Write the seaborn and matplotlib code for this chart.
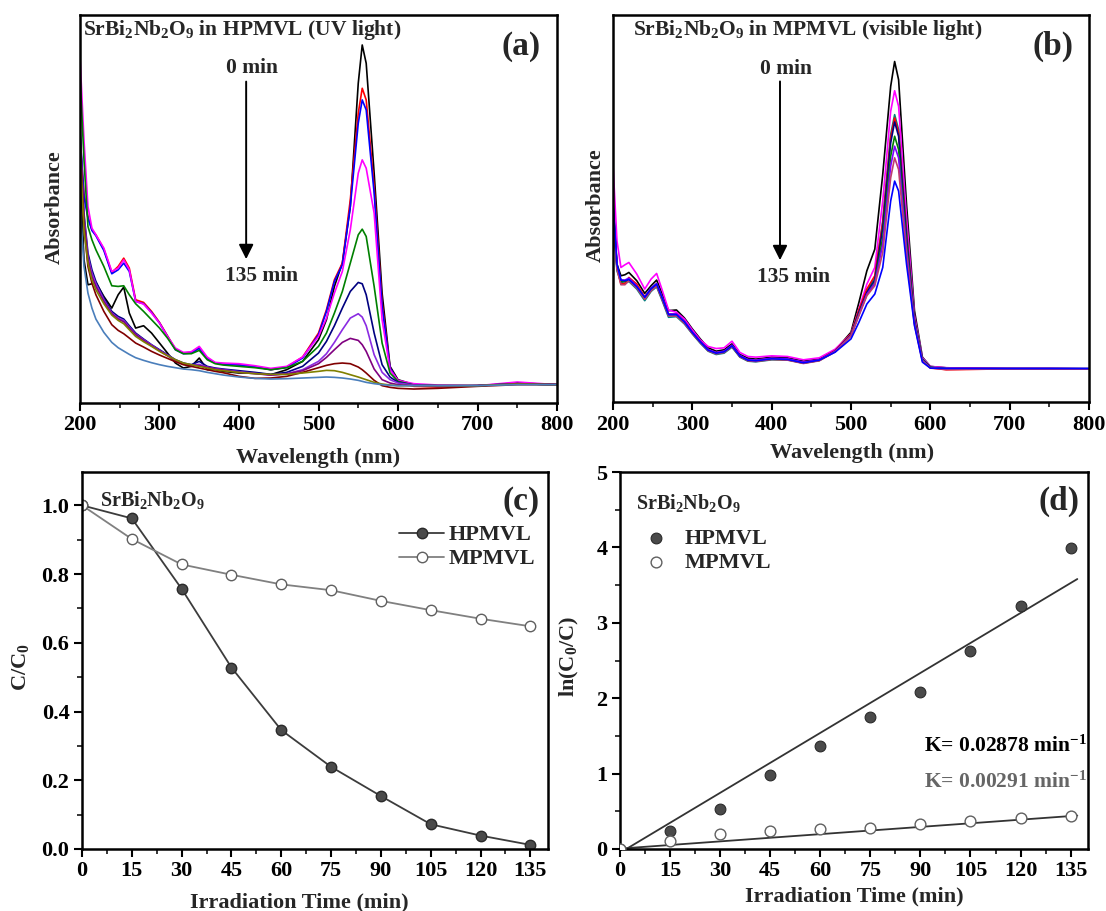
import numpy as np
import pandas as pd
import matplotlib
matplotlib.use("Agg")
import matplotlib.pyplot as plt
import seaborn as sns
from matplotlib.ticker import MultipleLocator

# ---------------- data ----------------
wavelength = [200, 205, 210, 215, 220, 230, 240, 248, 255, 262, 270, 280, 290, 300, 310,
              320, 330, 340, 350, 360, 370, 380, 400, 420, 440, 460, 480, 500, 510, 520,
              530, 540, 550, 555, 560, 570, 580, 590, 600, 620, 650, 700, 750, 800]

# panel (a) : SrBi2Nb2O9 in HPMVL (UV light), absorbance (a.u.)
uv_black = [0.710, 0.430, 0.355, 0.358, 0.362, 0.320, 0.285, 0.325, 0.348, 0.270, 0.225, 0.232, 0.210, 0.180, 0.150,
            0.120, 0.105, 0.110, 0.135, 0.100, 0.100, 0.095, 0.090, 0.090, 0.085, 0.100, 0.125, 0.190, 0.250, 0.350,
            0.420, 0.590, 0.960, 1.075, 1.020, 0.690, 0.330, 0.110, 0.070, 0.055, 0.052, 0.052, 0.060, 0.055]
uv_red = [0.790, 0.630, 0.560, 0.520, 0.505, 0.462, 0.392, 0.410, 0.435, 0.405, 0.310, 0.302, 0.275, 0.242, 0.202,
          0.162, 0.150, 0.152, 0.167, 0.135, 0.120, 0.118, 0.115, 0.110, 0.100, 0.108, 0.138, 0.210, 0.280, 0.370,
          0.420, 0.610, 0.870, 0.945, 0.910, 0.650, 0.300, 0.105, 0.065, 0.050, 0.048, 0.052, 0.058, 0.055]
uv_blue = [0.810, 0.620, 0.555, 0.518, 0.502, 0.458, 0.388, 0.400, 0.420, 0.395, 0.305, 0.298, 0.272, 0.240, 0.200,
           0.160, 0.148, 0.150, 0.164, 0.133, 0.120, 0.117, 0.114, 0.109, 0.100, 0.107, 0.135, 0.205, 0.275, 0.365,
           0.415, 0.590, 0.840, 0.910, 0.880, 0.630, 0.290, 0.105, 0.065, 0.053, 0.050, 0.052, 0.058, 0.055]
uv_magenta = [1.040, 0.790, 0.590, 0.525, 0.505, 0.465, 0.395, 0.405, 0.430, 0.400, 0.305, 0.297, 0.270, 0.240, 0.200,
              0.165, 0.152, 0.154, 0.170, 0.138, 0.122, 0.120, 0.118, 0.112, 0.104, 0.110, 0.138, 0.200, 0.255, 0.330,
              0.395, 0.520, 0.690, 0.730, 0.705, 0.570, 0.250, 0.100, 0.068, 0.058, 0.054, 0.052, 0.063, 0.055]
uv_green = [0.990, 0.730, 0.530, 0.490, 0.460, 0.410, 0.352, 0.350, 0.352, 0.325, 0.298, 0.275, 0.250, 0.225, 0.195,
            0.160, 0.148, 0.148, 0.158, 0.130, 0.118, 0.114, 0.110, 0.106, 0.100, 0.106, 0.125, 0.170, 0.210, 0.270,
            0.335, 0.420, 0.505, 0.522, 0.500, 0.350, 0.180, 0.090, 0.065, 0.054, 0.052, 0.052, 0.058, 0.055]
uv_navy = [0.830, 0.570, 0.450, 0.400, 0.365, 0.315, 0.275, 0.260, 0.252, 0.232, 0.210, 0.192, 0.175, 0.160, 0.145,
           0.130, 0.120, 0.115, 0.125, 0.110, 0.105, 0.102, 0.097, 0.092, 0.086, 0.092, 0.110, 0.150, 0.185, 0.232,
           0.285, 0.335, 0.362, 0.358, 0.325, 0.210, 0.115, 0.078, 0.062, 0.054, 0.052, 0.052, 0.058, 0.055]
uv_violet = [0.810, 0.560, 0.440, 0.390, 0.358, 0.310, 0.270, 0.255, 0.248, 0.228, 0.207, 0.190, 0.174, 0.158, 0.144,
             0.128, 0.118, 0.114, 0.116, 0.108, 0.103, 0.100, 0.094, 0.089, 0.084, 0.088, 0.100, 0.125, 0.148, 0.182,
             0.220, 0.255, 0.268, 0.258, 0.232, 0.145, 0.092, 0.070, 0.060, 0.054, 0.052, 0.052, 0.058, 0.055]
uv_purple = [0.800, 0.550, 0.430, 0.380, 0.350, 0.305, 0.268, 0.252, 0.244, 0.225, 0.205, 0.188, 0.172, 0.157, 0.142,
             0.127, 0.117, 0.113, 0.112, 0.107, 0.102, 0.099, 0.092, 0.088, 0.084, 0.087, 0.097, 0.118, 0.137, 0.160,
             0.182, 0.194, 0.188, 0.175, 0.155, 0.102, 0.070, 0.060, 0.055, 0.052, 0.050, 0.052, 0.058, 0.055]
uv_wine = [0.790, 0.530, 0.410, 0.360, 0.325, 0.275, 0.235, 0.218, 0.208, 0.195, 0.180, 0.168, 0.155, 0.144, 0.134,
           0.124, 0.115, 0.110, 0.105, 0.100, 0.095, 0.091, 0.080, 0.074, 0.075, 0.080, 0.092, 0.106, 0.113, 0.118,
           0.120, 0.118, 0.108, 0.100, 0.090, 0.068, 0.052, 0.047, 0.044, 0.042, 0.044, 0.050, 0.055, 0.055]
uv_olive = [0.760, 0.520, 0.420, 0.370, 0.340, 0.298, 0.264, 0.248, 0.238, 0.220, 0.200, 0.184, 0.170, 0.155, 0.142,
            0.130, 0.120, 0.115, 0.110, 0.105, 0.100, 0.097, 0.092, 0.088, 0.086, 0.086, 0.090, 0.095, 0.098, 0.097,
            0.092, 0.085, 0.078, 0.074, 0.070, 0.062, 0.057, 0.054, 0.052, 0.052, 0.052, 0.052, 0.057, 0.055]
uv_steel = [0.600, 0.410, 0.330, 0.285, 0.252, 0.212, 0.182, 0.166, 0.156, 0.146, 0.136, 0.128, 0.121, 0.115, 0.110,
            0.106, 0.102, 0.100, 0.097, 0.092, 0.088, 0.084, 0.078, 0.074, 0.072, 0.073, 0.075, 0.077, 0.078, 0.077,
            0.075, 0.072, 0.068, 0.065, 0.062, 0.058, 0.055, 0.053, 0.052, 0.052, 0.052, 0.052, 0.055, 0.055]

# panel (b) : SrBi2Nb2O9 in MPMVL (visible light), absorbance (a.u.)
vis_black = [0.605, 0.415, 0.380, 0.383, 0.390, 0.365, 0.327, 0.350, 0.367, 0.325, 0.275, 0.277, 0.253, 0.220, 0.190,
             0.163, 0.153, 0.157, 0.175, 0.143, 0.132, 0.129, 0.135, 0.133, 0.123, 0.129, 0.155, 0.210, 0.300, 0.395,
             0.460, 0.685, 0.950, 1.025, 0.970, 0.595, 0.275, 0.135, 0.107, 0.103, 0.102, 0.101, 0.101, 0.100]
vis_magenta = [0.715, 0.485, 0.405, 0.413, 0.420, 0.385, 0.340, 0.370, 0.387, 0.337, 0.277, 0.270, 0.250, 0.217, 0.187,
               0.167, 0.161, 0.163, 0.183, 0.149, 0.137, 0.135, 0.139, 0.137, 0.127, 0.133, 0.159, 0.205, 0.280, 0.355,
               0.405, 0.605, 0.875, 0.937, 0.890, 0.555, 0.260, 0.133, 0.107, 0.103, 0.102, 0.101, 0.101, 0.100]
vis_teal = [0.555, 0.395, 0.360, 0.357, 0.363, 0.340, 0.305, 0.333, 0.347, 0.305, 0.255, 0.257, 0.235, 0.205, 0.177,
            0.153, 0.143, 0.147, 0.165, 0.135, 0.123, 0.121, 0.127, 0.127, 0.117, 0.125, 0.153, 0.203, 0.275, 0.335,
            0.375, 0.545, 0.805, 0.865, 0.820, 0.515, 0.250, 0.130, 0.105, 0.101, 0.100, 0.100, 0.100, 0.100]
vis_red = [0.585, 0.405, 0.355, 0.357, 0.375, 0.355, 0.317, 0.340, 0.355, 0.313, 0.265, 0.265, 0.243, 0.210, 0.183,
           0.157, 0.148, 0.152, 0.170, 0.139, 0.127, 0.125, 0.131, 0.129, 0.119, 0.127, 0.155, 0.205, 0.277, 0.340,
           0.380, 0.540, 0.795, 0.855, 0.810, 0.505, 0.245, 0.127, 0.103, 0.097, 0.098, 0.100, 0.099, 0.100]
vis_navy = [0.595, 0.410, 0.365, 0.365, 0.370, 0.347, 0.313, 0.339, 0.353, 0.312, 0.263, 0.263, 0.241, 0.209, 0.181,
            0.156, 0.147, 0.151, 0.169, 0.138, 0.126, 0.124, 0.130, 0.128, 0.118, 0.126, 0.153, 0.202, 0.270, 0.330,
            0.367, 0.525, 0.780, 0.843, 0.800, 0.495, 0.243, 0.128, 0.104, 0.100, 0.100, 0.100, 0.100, 0.100]
vis_green = [0.575, 0.405, 0.363, 0.363, 0.369, 0.345, 0.311, 0.337, 0.351, 0.310, 0.261, 0.261, 0.239, 0.207, 0.180,
             0.155, 0.146, 0.150, 0.168, 0.137, 0.125, 0.123, 0.129, 0.127, 0.117, 0.125, 0.152, 0.200, 0.265, 0.323,
             0.360, 0.495, 0.740, 0.800, 0.760, 0.475, 0.240, 0.127, 0.104, 0.100, 0.100, 0.100, 0.100, 0.100]
vis_violet = [0.590, 0.407, 0.367, 0.367, 0.373, 0.349, 0.315, 0.343, 0.357, 0.315, 0.265, 0.265, 0.243, 0.211, 0.183,
              0.158, 0.149, 0.153, 0.171, 0.140, 0.128, 0.126, 0.132, 0.130, 0.120, 0.127, 0.153, 0.200, 0.263, 0.325,
              0.357, 0.475, 0.710, 0.770, 0.735, 0.460, 0.237, 0.125, 0.103, 0.100, 0.100, 0.100, 0.100, 0.100]
vis_rose = [0.565, 0.400, 0.353, 0.353, 0.365, 0.343, 0.309, 0.335, 0.349, 0.308, 0.259, 0.259, 0.237, 0.206, 0.179,
            0.154, 0.145, 0.149, 0.167, 0.136, 0.124, 0.122, 0.128, 0.126, 0.116, 0.124, 0.151, 0.199, 0.260, 0.320,
            0.350, 0.450, 0.675, 0.735, 0.700, 0.440, 0.233, 0.123, 0.102, 0.098, 0.099, 0.100, 0.100, 0.100]
vis_blue = [0.605, 0.415, 0.367, 0.365, 0.369, 0.347, 0.315, 0.341, 0.355, 0.313, 0.263, 0.263, 0.241, 0.209, 0.181,
            0.156, 0.147, 0.151, 0.169, 0.138, 0.126, 0.124, 0.130, 0.128, 0.118, 0.126, 0.150, 0.190, 0.240, 0.295,
            0.325, 0.405, 0.605, 0.665, 0.635, 0.415, 0.230, 0.120, 0.102, 0.101, 0.101, 0.101, 0.101, 0.101]

# panels (c) and (d)
time_min = [0, 15, 30, 45, 60, 75, 90, 105, 120, 135]
c_hpmvl = [1.000, 0.962, 0.757, 0.528, 0.346, 0.239, 0.154, 0.072, 0.039, 0.012]
c_mpmvl = [1.000, 0.902, 0.828, 0.798, 0.770, 0.753, 0.722, 0.695, 0.670, 0.648]
ln_hpmvl = [0.0, 0.238, 0.533, 0.988, 1.367, 1.755, 2.085, 2.62, 3.22, 3.99]
ln_mpmvl = [0.0, 0.106, 0.194, 0.234, 0.265, 0.282, 0.331, 0.370, 0.410, 0.440]
fit_hp = (0.0265, -0.05)    # slope, intercept of drawn fit line
fit_mp = (0.0032, 0.005)
k_labels = ["K= 0.02878 min$^{-1}$", "K= 0.00291 min$^{-1}$"]

uv_curves = [uv_black, uv_red, uv_blue, uv_magenta, uv_green, uv_navy, uv_violet,
             uv_purple, uv_wine, uv_olive, uv_steel]
uv_colors = ["#000000", "#ff0000", "#0000ff", "#ff00ff", "#008000", "#000080", "#8a2be2",
             "#800080", "#800000", "#808000", "#4a7ebb"]
vis_curves = [vis_black, vis_magenta, vis_teal, vis_red, vis_navy, vis_green, vis_violet,
              vis_rose, vis_blue]
vis_colors = ["#000000", "#ff00ff", "#008080", "#ff0000", "#000080", "#008000", "#8000ff",
              "#c03c6e", "#0000ff"]

# ---------------- style ----------------
sns.set_theme(style="ticks")
plt.rcParams["font.family"] = ["Liberation Serif", "DejaVu Serif"]
plt.rcParams["font.weight"] = "bold"
plt.rcParams["axes.labelweight"] = "bold"
plt.rcParams["mathtext.fontset"] = "custom"
plt.rcParams["mathtext.rm"] = "Liberation Serif:bold"
plt.rcParams["mathtext.it"] = "Liberation Serif:bold"
plt.rcParams["mathtext.bf"] = "Liberation Serif:bold"

FS_TICK = 16
FS_LAB = 16

fig = plt.figure(figsize=(11.06, 9.11), dpi=100)
W, H = 1106, 911


def add_ax(l, t, r, b):
    return fig.add_axes([l / W, 1 - b / H, (r - l) / W, (b - t) / H])


axA = add_ax(80, 15, 557, 403)
axB = add_ax(613, 15, 1089, 402)
axC = add_ax(82, 472, 548, 849)
axD = add_ax(620, 472, 1088, 849)


def frame(ax):
    for s in ax.spines.values():
        s.set_visible(True)
        s.set_linewidth(1.8)
        s.set_color("black")
    ax.tick_params(which="major", direction="out", length=6, width=1.5, labelsize=FS_TICK,
                   top=False, right=False, colors="black", pad=3)
    ax.tick_params(which="minor", direction="out", length=3.5, width=1.3, top=False, right=False)
    for lab in ax.get_xticklabels() + ax.get_yticklabels():
        lab.set_fontweight("bold")


def spectra(ax, curves, colors, title, letter, arrow_x, arrow_top, arrow_bot, t0, t1):
    rows = []
    for i, c in enumerate(curves):
        for w, a in zip(wavelength, c):
            rows.append((w, a, i))
    df = pd.DataFrame(rows, columns=["wavelength", "absorbance", "curve"])
    sns.lineplot(data=df, x="wavelength", y="absorbance", hue="curve", palette=colors,
                 legend=False, estimator=None, sort=False, lw=1.2, ax=ax)
    ax.set_xlim(200, 800)
    ax.set_ylim(0, 1.165)
    ax.set_yticks([])
    ax.xaxis.set_major_locator(MultipleLocator(100))
    ax.xaxis.set_minor_locator(MultipleLocator(50))
    frame(ax)
    ax.set_xlabel("Wavelength (nm)", fontsize=FS_LAB, fontweight="bold")
    ax.set_ylabel("Absorbance", fontsize=FS_LAB, fontweight="bold")
    ax.annotate("", xy=(arrow_x, arrow_bot), xytext=(arrow_x, arrow_top),
                arrowprops=dict(arrowstyle="-|>", color="black", lw=1.4, mutation_scale=22,
                                shrinkA=0, shrinkB=0))
    ax.text(t0[0], t0[1], "0 min", ha="center", va="center", fontsize=15.5, fontweight="bold")
    ax.text(t1[0], t1[1], "135 min", ha="center", va="center", fontsize=15.5, fontweight="bold")
    ax.text(title[1], 0.961, title[0], transform=ax.transAxes, ha="left", va="center",
            fontsize=15.5, fontweight="bold")
    ax.text(0.925, 0.92, letter, transform=ax.transAxes, ha="center", va="center",
            fontsize=24, fontweight="bold")


spectra(axA, uv_curves, uv_colors, ("SrBi$_2$Nb$_2$O$_9$ in HPMVL (UV light)", 0.006), "(a)",
        409, 0.965, 0.432, (416, 1.005), (428, 0.38))
axA.xaxis.set_label_coords(0.499, -0.142)
axA.yaxis.set_label_coords(-0.052, 0.505)

spectra(axB, vis_curves, vis_colors, ("SrBi$_2$Nb$_2$O$_9$ in MPMVL (visible light)", 0.042), "(b)",
        410.5, 0.965, 0.427, (418, 1.002), (428, 0.377))
axB.xaxis.set_label_coords(0.502, -0.132)
axB.yaxis.set_label_coords(-0.036, 0.51)

for ax in (axA, axB):
    ax.xaxis.label.set_va("center")
    ax.yaxis.label.set_va("center")

# ---------------- panel (c) ----------------
sns.lineplot(x=time_min, y=c_hpmvl, ax=axC, color="#3c3c3c", lw=1.3, marker="o", markersize=7.5,
             markerfacecolor="#4a4a4a", markeredgecolor="#2a2a2a", markeredgewidth=1.0, label="HPMVL")
sns.lineplot(x=time_min, y=c_mpmvl, ax=axC, color="#808080", lw=1.3, marker="o", markersize=7.5,
             markerfacecolor="white", markeredgecolor="#606060", markeredgewidth=1.0, label="MPMVL")
axC.set_xlim(0, 140.3)
axC.set_ylim(0, 1.097)
axC.xaxis.set_major_locator(MultipleLocator(15))
axC.xaxis.set_minor_locator(MultipleLocator(7.5))
axC.yaxis.set_major_locator(MultipleLocator(0.2))
axC.yaxis.set_minor_locator(MultipleLocator(0.1))
axC.yaxis.set_major_formatter(matplotlib.ticker.FormatStrFormatter("%.1f"))
frame(axC)
axC.set_xlabel("Irradiation Time (min)", fontsize=FS_LAB, fontweight="bold", va="center")
axC.set_ylabel("C/C$_0$", fontsize=FS_LAB, fontweight="bold", va="center")
axC.xaxis.set_label_coords(0.466, -0.143)
axC.yaxis.set_label_coords(-0.133, 0.483)
axC.text(0.039, 0.926, "SrBi$_2$Nb$_2$O$_9$", transform=axC.transAxes, ha="left", va="center",
         fontsize=14.5, fontweight="bold")
axC.text(0.942, 0.921, "(c)", transform=axC.transAxes, ha="center", va="center",
         fontsize=24, fontweight="bold")
axC.legend(loc="upper right", bbox_to_anchor=(1.0, 0.895), frameon=False, fontsize=16,
           handlelength=2.0, handletextpad=0.2, labelspacing=0.15, borderaxespad=0.2)

# ---------------- panel (d) ----------------
sns.scatterplot(x=time_min, y=ln_hpmvl, ax=axD, color="#4a4a4a", edgecolor="#2a2a2a", s=60,
                linewidth=0.8, label="HPMVL", zorder=3)
sns.scatterplot(x=time_min, y=ln_mpmvl, ax=axD, color="white", edgecolor="#606060", s=60,
                linewidth=1.0, label="MPMVL", zorder=3)
fit_x = [0, 137]
sns.lineplot(x=fit_x, y=[fit_hp[0] * v + fit_hp[1] for v in fit_x], ax=axD, color="#333333",
             lw=1.3, legend=False)
sns.lineplot(x=fit_x, y=[fit_mp[0] * v + fit_mp[1] for v in fit_x], ax=axD, color="#333333",
             lw=1.3, legend=False)
axD.set_xlim(0, 140.2)
axD.set_ylim(0, 5)
axD.xaxis.set_major_locator(MultipleLocator(15))
axD.xaxis.set_minor_locator(MultipleLocator(7.5))
axD.yaxis.set_major_locator(MultipleLocator(1))
axD.yaxis.set_minor_locator(MultipleLocator(0.5))
frame(axD)
axD.set_xlabel("Irradiation Time (min)", fontsize=FS_LAB, fontweight="bold", va="center")
axD.set_ylabel("ln(C$_0$/C)", fontsize=FS_LAB, fontweight="bold", va="center")
axD.xaxis.set_label_coords(0.501, -0.127)
axD.yaxis.set_label_coords(-0.108, 0.51)
axD.text(0.034, 0.918, "SrBi$_2$Nb$_2$O$_9$", transform=axD.transAxes, ha="left", va="center",
         fontsize=14.5, fontweight="bold")
axD.text(0.938, 0.921, "(d)", transform=axD.transAxes, ha="center", va="center",
         fontsize=24, fontweight="bold")
axD.text(91.2, 1.37, k_labels[0], ha="left", va="center", fontsize=15.5, fontweight="bold",
         color="black")
axD.text(91.2, 0.88, k_labels[1], ha="left", va="center", fontsize=15.5, fontweight="bold",
         color="#666666")
axD.legend(loc="upper left", bbox_to_anchor=(0.0, 0.885), frameon=False, fontsize=16,
           handletextpad=0.3, labelspacing=0.15, borderaxespad=0.2)

fig.savefig("out.png", dpi=100)
